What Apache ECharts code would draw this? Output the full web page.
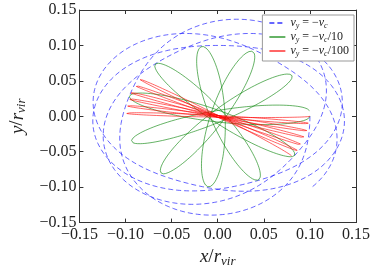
<!DOCTYPE html>
<html><head><meta charset="utf-8">
<script src="https://cdn.jsdelivr.net/npm/echarts@6/dist/echarts.min.js"></script>
<style>html,body{margin:0;padding:0;background:#fff}#c{width:374px;height:273px}</style>
</head><body><div id="c"></div>
<script>
// ---- data ----
const tickValues = [-0.15, -0.10, -0.05, 0.00, 0.05, 0.10, 0.15];
const seriesNames = ['vc', 'vc10', 'vc100'];
const legendLabels = {
  vc: '{v|v}{s|y}{n| = −}{v|v}{s|c}',
  vc10: '{v|v}{s|y}{n| = −}{v|v}{s|c}{n|/10}',
  vc100: '{v|v}{s|y}{n| = −}{v|v}{s|c}{n|/100}'
};

// v_y = -v_c : apsides in visit order (peri, apo, peri, ...), polar angle (deg) and radius
const blueApsisAngle = [0, -99, -198, -297, -396, -495, -594, -693, -792, -891, -990, -1089, -1188, -1287, -1386, -1485];
const blueApsisR     = [0.100, 0.140, 0.100, 0.142, 0.100, 0.136, 0.100, 0.140, 0.100, 0.136, 0.100, 0.138, 0.100, 0.140, 0.100, 0.143];

// v_y = -v_c/10 : apocentres in visit order, angle (deg) and radius; petal semi-minor axis
const greenApoAngle = [0, 163.3, -33.8, 132.3, -64, 99.8, -95.7, 67.8, -127, 35.8, -159, 4];
const greenApoR     = [0.100, 0.100, 0.100, 0.100, 0.100, 0.100, 0.100, 0.099, 0.101, 0.099, 0.100, 0.100];
const greenMinor = 0.008;

// v_y = -v_c/100 : apocentres in visit order
const redApoAngle = [0, 177.6, -5.8, 171.5, -11.9, 165.8, -17.6, 160.6, -24, 154.2, -29.3, 148.3, -35];
const redApoR     = [0.100, 0.099, 0.099, 0.099, 0.099, 0.100, 0.100, 0.100, 0.100, 0.100, 0.099, 0.099, 0.098];
const redMinor = 0.0012;

// ---- curve construction between the read key points ----
function precessing(angles, radii, minor, n) {
  const pts = [];
  for (let k = 0; k < angles.length - 1; k++) {
    const t0 = angles[k], t1 = angles[k + 1];
    const d = ((t1 + 180 - t0) % 360 + 540) % 360 - 180;
    for (let i = (k === 0 ? 0 : 1); i <= n; i++) {
      const f = i / n, psi = Math.PI * f;
      const al = (t0 + d * f) * Math.PI / 180;
      const a = radii[k] + (radii[k + 1] - radii[k]) * f;
      const c = Math.cos(psi), s = Math.sin(psi);
      const ux = Math.cos(al), uy = Math.sin(al);
      pts.push([a * c * ux + minor * s * uy, a * c * uy - minor * s * ux]);
    }
  }
  return pts;
}
function polarApsides(angles, radii, n) {
  const pts = [];
  for (let k = 0; k < angles.length - 1; k++) {
    for (let i = (k === 0 ? 0 : 1); i <= n; i++) {
      const f = i / n;
      const phi = (angles[k] + (angles[k + 1] - angles[k]) * f) * Math.PI / 180;
      const r = (radii[k] + radii[k + 1]) / 2 + (radii[k] - radii[k + 1]) / 2 * Math.cos(Math.PI * f);
      pts.push([r * Math.cos(phi), r * Math.sin(phi)]);
    }
  }
  return pts;
}

const serif = "'Liberation Serif', 'DejaVu Serif', serif";
const fmt = v => (Math.abs(v) < 1e-9 ? '0.00' : (v < 0 ? '−' : '') + Math.abs(v).toFixed(2));
const axisCommon = {
  type: 'value', min: tickValues[0], max: tickValues[tickValues.length - 1], interval: 0.05,
  splitLine: { show: false },
  axisLine: { show: true, onZero: false, lineStyle: { color: '#333', width: 1 } },
  axisTick: { show: true, inside: true, length: 4, lineStyle: { color: '#333' } }
};
const nameRich = {
  i: { fontFamily: serif, fontStyle: 'italic', fontSize: 19, lineHeight: 22, color: '#222' },
  u: { fontFamily: serif, fontSize: 19, lineHeight: 22, color: '#222' },
  s: { fontFamily: serif, fontStyle: 'italic', fontSize: 13, lineHeight: 10, verticalAlign: 'bottom', color: '#222' }
};

const chart = echarts.init(document.getElementById('c'), null, { renderer: 'canvas' });
chart.setOption({
  animation: false,
  backgroundColor: '#fff',
  grid: { left: 66, right: 18, top: 10, bottom: 40 },
  xAxis: [
    Object.assign({}, axisCommon, {
      position: 'bottom',
      name: '{i|x}{u|/}{i|r}{s|vir}', nameLocation: 'middle', nameGap: 18,
      nameTextStyle: { rich: nameRich },
      axisLabel: { formatter: fmt, margin: 4, fontFamily: serif, fontSize: 16, color: '#222' }
    }),
    Object.assign({}, axisCommon, { position: 'top', axisLabel: { show: false } })
  ],
  yAxis: [
    Object.assign({}, axisCommon, {
      position: 'left',
      name: '{i|y}{u|/}{i|r}{s|vir}', nameLocation: 'middle', nameGap: 40, nameRotate: 90,
      nameTextStyle: { rich: nameRich },
      axisLabel: { formatter: fmt, margin: 3, fontFamily: serif, fontSize: 16, color: '#222' }
    }),
    Object.assign({}, axisCommon, { position: 'right', axisLabel: { show: false } })
  ],
  legend: {
    orient: 'vertical', right: 20, top: 15,
    data: seriesNames,
    backgroundColor: '#fff', borderColor: '#999', borderWidth: 1, borderRadius: 0,
    padding: [2, 5, 3, 6], itemWidth: 16, itemHeight: 10, itemGap: 1,
    itemStyle: { opacity: 0 },
    formatter: n => legendLabels[n],
    textStyle: {
      rich: {
        v: { fontFamily: serif, fontStyle: 'italic', fontSize: 12, lineHeight: 14, color: '#222' },
        n: { fontFamily: serif, fontSize: 12, lineHeight: 14, color: '#222' },
        s: { fontFamily: serif, fontStyle: 'italic', fontSize: 8, lineHeight: 8, verticalAlign: 'bottom', color: '#222' }
      }
    }
  },
  series: [
    { name: 'vc', type: 'line', symbol: 'none', showSymbol: false, clip: true,
      lineStyle: { color: 'rgba(0,0,255,0.6)', width: 1, type: [5, 3] },
      itemStyle: { color: 'rgba(0,0,255,0.6)' },
      data: polarApsides(blueApsisAngle, blueApsisR, 80) },
    { name: 'vc10', type: 'line', symbol: 'none', showSymbol: false, clip: true,
      lineStyle: { color: 'rgba(0,128,0,0.6)', width: 1 },
      itemStyle: { color: 'rgba(0,128,0,0.6)' },
      data: precessing(greenApoAngle, greenApoR, greenMinor, 120) },
    { name: 'vc100', type: 'line', symbol: 'none', showSymbol: false, clip: true,
      lineStyle: { color: 'rgba(255,0,0,0.6)', width: 1 },
      itemStyle: { color: 'rgba(255,0,0,0.6)' },
      data: precessing(redApoAngle, redApoR, redMinor, 120) }
  ]
});
</script>
</body></html>
